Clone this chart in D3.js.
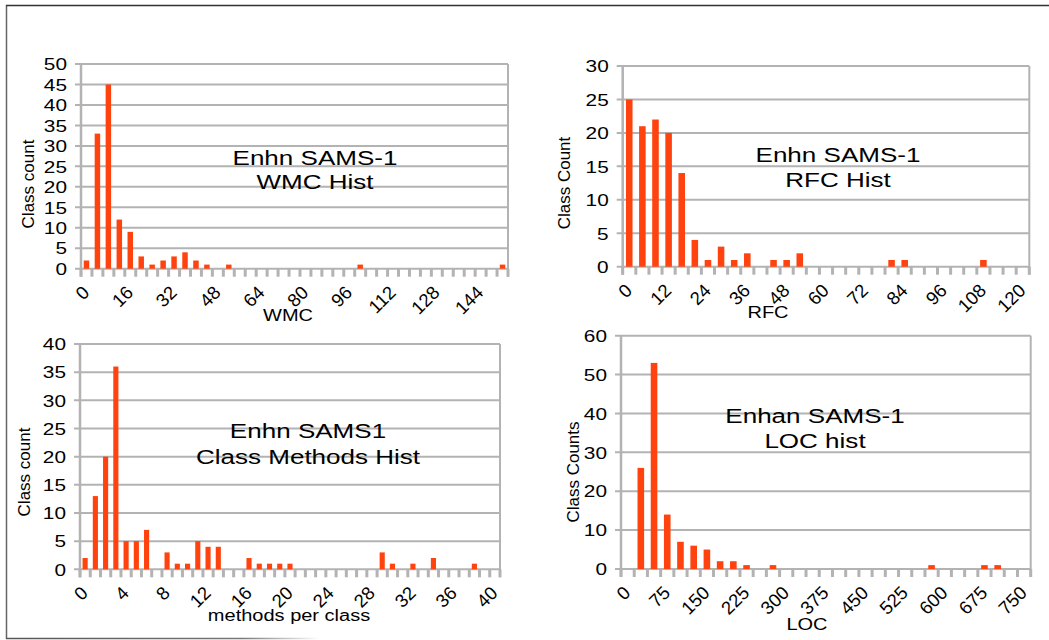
<!DOCTYPE html>
<html>
<head>
<meta charset="utf-8">
<script src="https://cdn.jsdelivr.net/npm/d3@7"></script>
<style>
  html, body { margin: 0; padding: 0; background: #fff; }
  svg { display: block; }
  text { font-family: "Liberation Sans", Arial, sans-serif; fill: #000; }
</style>
</head>
<body>
<svg id="chart" width="1049" height="640"></svg>
<script>
// ---------------- DATA ----------------
// WMC histogram (bin width 4)
const wmcBins = [0,4,8,12,16,20,24,28,32,36,40,44,48,52,56,60,64,68,72,76,80,84,88,92,96,100,104,108,112,116,120,124,128,132,136,140,144,148,152];
const wmcCounts = [2,33,45,12,9,3,1,2,3,4,2,1,0,1,0,0,0,0,0,0,0,0,0,0,0,1,0,0,0,0,0,0,0,0,0,0,0,0,1];
const wmcXLabels = [0,16,32,48,64,80,96,112,128,144];
const wmcYTicks = [0,5,10,15,20,25,30,35,40,45,50];

// RFC histogram (bin width 4)
const rfcBins = [0,4,8,12,16,20,24,28,32,36,40,44,48,52,56,60,64,68,72,76,80,84,88,92,96,100,104,108,112,116,120];
const rfcCounts = [25,21,22,20,14,4,1,3,1,2,0,1,1,2,0,0,0,0,0,0,1,1,0,0,0,0,0,1,0,0,0];
const rfcXLabels = [0,12,24,36,48,60,72,84,96,108,120];
const rfcYTicks = [0,5,10,15,20,25,30];

// Methods per class histogram (bin width 1)
const mpcBins = [0,1,2,3,4,5,6,7,8,9,10,11,12,13,14,15,16,17,18,19,20,21,22,23,24,25,26,27,28,29,30,31,32,33,34,35,36,37,38,39,40];
const mpcCounts = [2,13,20,36,5,5,7,0,3,1,1,5,4,4,0,0,2,1,1,1,1,0,0,0,0,0,0,0,0,3,1,0,1,0,2,0,0,0,1,0,0];
const mpcXLabels = [0,4,8,12,16,20,24,28,32,36,40];
const mpcYTicks = [0,5,10,15,20,25,30,35,40];

// LOC histogram (bin width 25)
const locBins = [0,25,50,75,100,125,150,175,200,225,250,275,300,325,350,375,400,425,450,475,500,525,550,575,600,625,650,675,700,725,750];
const locCounts = [0,26,53,14,7,6,5,2,2,1,0,1,0,0,0,0,0,0,0,0,0,0,0,1,0,0,0,1,1,0,0];
const locXLabels = [0,75,150,225,300,375,450,525,600,675,750];
const locYTicks = [0,10,20,30,40,50,60];

// ---------------- LAYOUT ----------------
const panels = [
  { bins: wmcBins, counts: wmcCounts, xLabels: wmcXLabels, yTicks: wmcYTicks,
    left: 81, right: 508, top: 64, bottom: 268.7,
    title: ["Enhn SAMS-1", "WMC Hist"], titleX: 315, titleY: [165, 189],
    yTitle: "Class count", yTitleX: 28, yTitleY: 184,
    xTitle: "WMC", xTitleX: 288, xTitleY: 321 },
  { bins: rfcBins, counts: rfcCounts, xLabels: rfcXLabels, yTicks: rfcYTicks,
    left: 622.7, right: 1029.3, top: 66, bottom: 266.7,
    title: ["Enhn SAMS-1", "RFC Hist"], titleX: 838, titleY: [162, 187],
    yTitle: "Class Count", yTitleX: 564, yTitleY: 183,
    xTitle: "RFC", xTitleX: 768, xTitleY: 318 },
  { bins: mpcBins, counts: mpcCounts, xLabels: mpcXLabels, yTicks: mpcYTicks,
    left: 80, right: 500, top: 344, bottom: 569.3,
    title: ["Enhn SAMS1", "Class Methods Hist"], titleX: 308, titleY: [438, 464],
    yTitle: "Class count", yTitleX: 24, yTitleY: 472,
    xTitle: "methods per class", xTitleX: 289, xTitleY: 621 },
  { bins: locBins, counts: locCounts, xLabels: locXLabels, yTicks: locYTicks,
    left: 621, right: 1030.7, top: 335.7, bottom: 569,
    title: ["Enhan SAMS-1", "LOC hist"], titleX: 815, titleY: [423, 448],
    yTitle: "Class Counts", yTitleX: 573, yTitleY: 472,
    xTitle: "LOC", xTitleX: 807, xTitleY: 630 }
];

const GRID = "#b3b3b3";
const BAR = "#ff420e";
const svg = d3.select("#chart");

// outer frame
const defs = svg.append("defs");
const grad = defs.append("linearGradient").attr("id", "fadeBottom")
  .attr("gradientUnits", "userSpaceOnUse").attr("x1", 6).attr("x2", 320).attr("y1", 0).attr("y2", 0);
grad.append("stop").attr("offset", 0).attr("stop-color", "#555");
grad.append("stop").attr("offset", 0.75).attr("stop-color", "#777");
grad.append("stop").attr("offset", 1).attr("stop-color", "#fff");
svg.append("line").attr("x1", 6.5).attr("x2", 6.5).attr("y1", 5).attr("y2", 639)
  .attr("stroke", "#666").attr("stroke-width", 1.5);
svg.append("line").attr("x1", 6).attr("x2", 1049).attr("y1", 5.5).attr("y2", 5.5)
  .attr("stroke", "#333").attr("stroke-width", 1.5);
svg.append("line").attr("x1", 6).attr("x2", 320).attr("y1", 638.5).attr("y2", 638.5)
  .attr("stroke", "url(#fadeBottom)").attr("stroke-width", 1.5);

panels.forEach(p => {
  const g = svg.append("g");
  const x = d3.scaleBand().domain(p.bins).range([p.left, p.right]).paddingInner(0).paddingOuter(0);
  const y = d3.scaleLinear().domain([0, d3.max(p.yTicks)]).range([p.bottom, p.top]);
  const bw = x.bandwidth();

  // horizontal gridlines (extend 6px left of axis as major ticks)
  g.append("g").selectAll("line").data(p.yTicks).join("line")
    .attr("x1", p.left - 6).attr("x2", p.right)
    .attr("y1", d => y(d)).attr("y2", d => y(d))
    .attr("stroke", GRID).attr("stroke-width", 2);

  // left axis line and right frame line
  g.append("line").attr("x1", p.left).attr("x2", p.left).attr("y1", p.top).attr("y2", p.bottom + 8)
    .attr("stroke", GRID).attr("stroke-width", 2.5);
  g.append("line").attr("x1", p.right).attr("x2", p.right).attr("y1", p.top).attr("y2", p.bottom + 8)
    .attr("stroke", GRID).attr("stroke-width", 2);

  // category tick marks at band boundaries
  const bounds = p.bins.map(b => x(b)).concat([x(p.bins[p.bins.length - 1]) + bw]);
  g.append("g").selectAll("line").data(bounds).join("line")
    .attr("x1", d => d).attr("x2", d => d)
    .attr("y1", p.bottom).attr("y2", p.bottom + 8)
    .attr("stroke", GRID).attr("stroke-width", 3);

  // y-axis labels via d3 axis
  const ya = g.append("g").attr("transform", `translate(${p.left},0)`)
    .call(d3.axisLeft(y).tickValues(p.yTicks).tickSize(0).tickPadding(14));
  ya.select(".domain").remove();
  ya.selectAll("text")
    .attr("x", null).attr("dy", "0.36em")
    .attr("transform", "translate(-14,0) scale(1.3,1)")
    .style("font-size", "16px").style("font-family", '"Liberation Sans", Arial, sans-serif')
    .attr("fill", "#000");

  // bars
  g.append("g").selectAll("rect").data(p.bins.map((b, i) => ({ b, v: p.counts[i] })).filter(d => d.v > 0))
    .join("rect")
    .attr("x", d => x(d.b) + bw * 0.25)
    .attr("width", bw * 0.5)
    .attr("y", d => y(d.v))
    .attr("height", d => y(0) - y(d.v))
    .attr("fill", BAR);

  // x labels rotated
  g.append("g").selectAll("text").data(p.xLabels).join("text")
    .attr("text-anchor", "end")
    .attr("transform", d => `translate(${x(d) + bw / 2 + 4},${p.bottom + 25}) rotate(-45)`)
    .style("font-size", "18.5px")
    .text(d => d);

  // axis titles
  g.append("text").attr("text-anchor", "middle")
    .attr("transform", `translate(${p.xTitleX},${p.xTitleY}) scale(1.25,1)`)
    .style("font-size", "16px").text(p.xTitle);
  g.append("text").attr("text-anchor", "middle")
    .attr("transform", `translate(${p.yTitleX},${p.yTitleY}) rotate(-90)`)
    .attr("dy", "0.35em")
    .style("font-size", "17px").text(p.yTitle);

  // chart title (two lines)
  p.title.forEach((t, i) => {
    g.append("text").attr("text-anchor", "middle")
      .attr("transform", `translate(${p.titleX},${p.titleY[i]}) scale(1.24,1)`)
      .style("font-size", "21px").text(t);
  });
});
</script>
</body>
</html>
